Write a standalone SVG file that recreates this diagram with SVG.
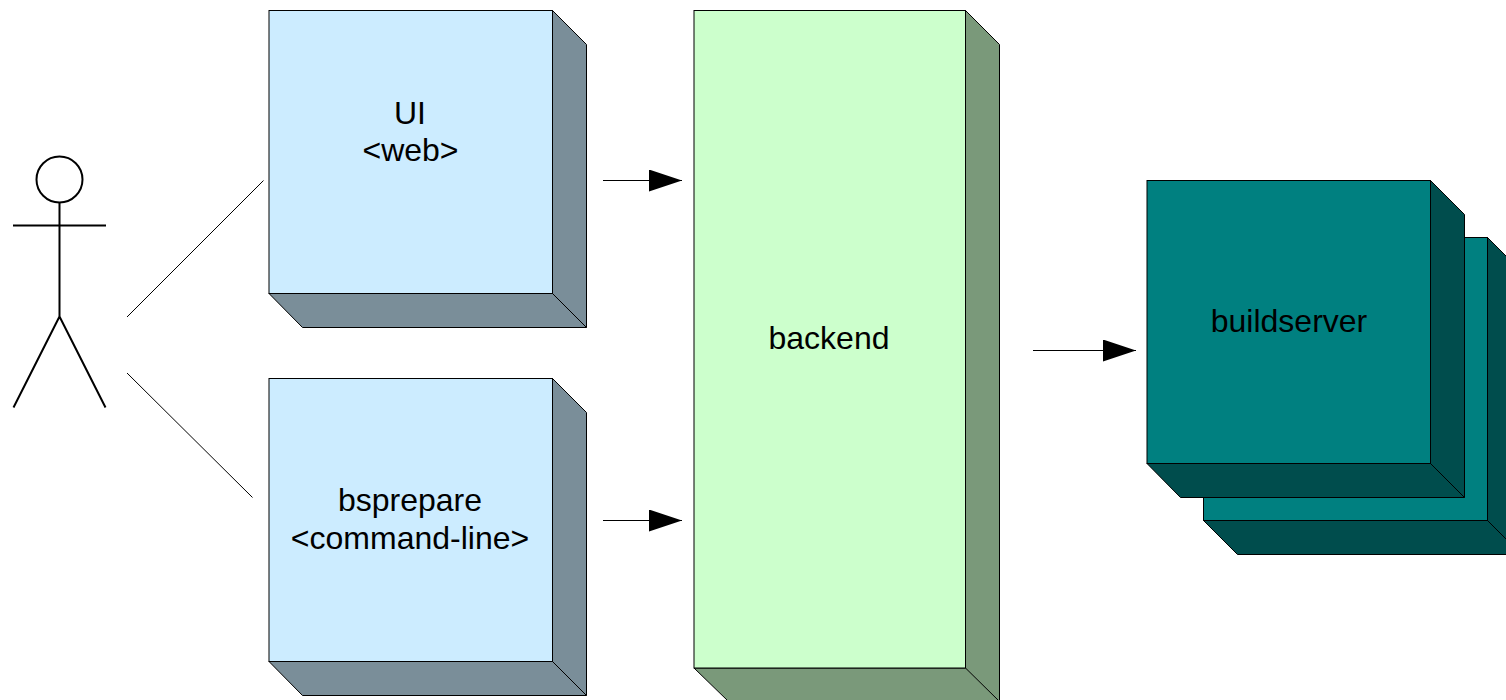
<svg xmlns="http://www.w3.org/2000/svg" width="1506" height="700" viewBox="0 0 1506 700">
<style>
.o{stroke:#000;stroke-width:1;stroke-linejoin:miter}
.blue{fill:#ccecff}.blued{fill:#7a8e99}
.green{fill:#ccffcc}.greend{fill:#7a997a}
.teal{fill:#008080}.teald{fill:#004d4d}
text{font-family:"Liberation Sans",Arial,sans-serif;font-size:32px;fill:#000;text-anchor:middle}
.fig{fill:none;stroke:#000;stroke-width:2}
.c{fill:none;stroke:#000;stroke-width:1}
</style>
<defs>
<marker id="arrow" markerUnits="userSpaceOnUse" markerWidth="34" markerHeight="24" refX="33" refY="11" orient="auto"><path d="M0 0L33 11L0 22Z" fill="#000"/></marker>
</defs>
<rect width="1506" height="700" fill="#fff"/>
<g id="actor" class="actor">
<circle class="fig" cx="59.500" cy="179.500" r="23"/>
<path class="fig" d="M59.500 202.500V316.500M13 225.500H106M59.500 316.500L13.500 407.500M59.500 316.500L105.500 407.500"/>
</g>
<g id="ui">
<path class="o blued" d="M552.500 10.500L586.500 44.500V327.500H302.500L269 293.500H552.500Z"/>
<rect class="o blue" x="269" y="10.500" width="283.500" height="283"/>
<path class="o" fill="none" d="M552.500 293.500L586.500 327.500"/>
<text x="410" y="124">UI</text>
<text x="410.500" y="160.500">&lt;web&gt;</text>
</g>
<g id="bsprepare">
<path class="o blued" d="M552.500 378.500L586.500 412.500V695.500H302.500L269 661.500H552.500Z"/>
<rect class="o blue" x="269" y="378.500" width="283.500" height="283"/>
<path class="o" fill="none" d="M552.500 661.500L586.500 695.500"/>
<text x="410" y="510.500">bsprepare</text>
<text x="410" y="548.500">&lt;command-line&gt;</text>
</g>
<g id="backend">
<path class="o greend" d="M965.500 10.500L999.500 44.500V701.500H728.500L694 668H965.500Z"/>
<rect class="o green" x="694" y="10.500" width="271.500" height="657.500"/>
<path class="o" fill="none" d="M965.500 668L999.500 701.500"/>
<text x="829" y="348.500">backend</text>
</g>
<g id="buildserver-back">
<path class="o teald" d="M1487.500 237.500L1521.500 271.500V554.500H1237.500L1203.500 520.500H1487.500Z"/>
<rect class="o teal" x="1203.500" y="237.500" width="284" height="283"/>
<path class="o" fill="none" d="M1487.500 520.500L1521.500 554.500"/>
</g>
<g id="buildserver">
<path class="o teald" d="M1430.500 180.500L1464.500 214.500V497.500H1180.500L1147 463.500H1430.500Z"/>
<rect class="o teal" x="1147" y="180.500" width="283.500" height="283"/>
<path class="o" fill="none" d="M1430.500 463.500L1464.500 497.500"/>
<text x="1289" y="331.500">buildserver</text>
</g>
<g id="connectors">
<path class="c" d="M127 317L263.500 180.500"/>
<path class="c" d="M127 373L252.500 497.500"/>
<path class="c" d="M603 180.500H682" marker-end="url(#arrow)"/>
<path class="c" d="M603 520.500H682" marker-end="url(#arrow)"/>
<path class="c" d="M1033 350.500H1136" marker-end="url(#arrow)"/>
</g>
</svg>
